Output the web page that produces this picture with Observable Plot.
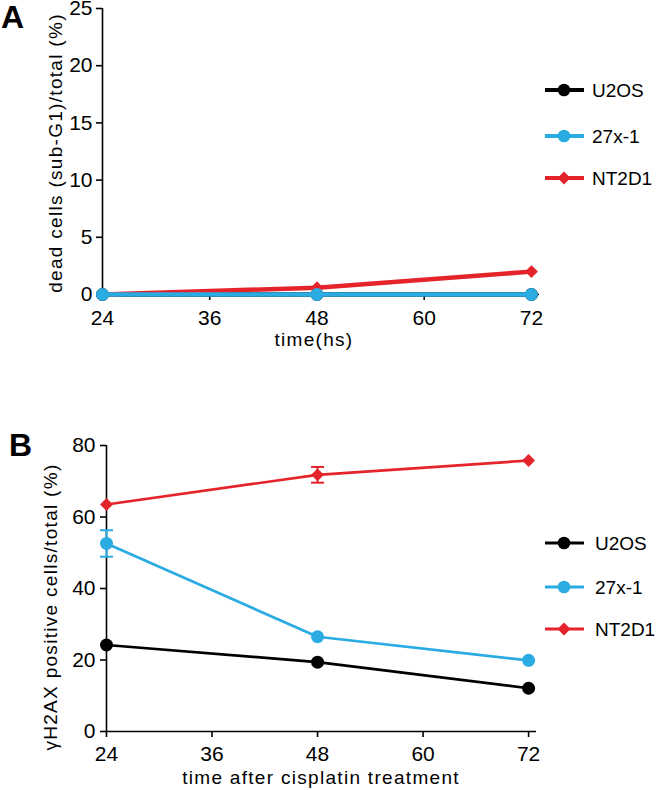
<!DOCTYPE html>
<html><head><meta charset="utf-8">
<script src="https://cdn.jsdelivr.net/npm/d3@7"></script>
<script src="https://cdn.jsdelivr.net/npm/@observablehq/plot@0.6"></script>
<style>
body{margin:0;background:#fff;}
#chart{width:666px;height:790px;position:relative;}
#chart svg{display:block;overflow:visible;}
#chart [aria-label$="axis tick"] path, #chart .tick line{stroke-width:1.6px;}
#chart [aria-label$="tick label"], #chart .tick text{font-size:21px !important;font-family:"Liberation Sans", Arial, sans-serif !important;}
</style></head><body><div id="chart"></div>
<script>
// ---------- data ----------
const times = [24, 48, 72];
const xTicks = [24, 36, 48, 60, 72];
const seriesNames = ["U2OS", "27x-1", "NT2D1"];
const seriesColors = ["#000000", "#2aabe2", "#e4232a"];
const seriesSymbols = ["circle", "circle", "diamond2"];

// Panel A: dead cells (sub-G1)/total (%)
const aTicksY = [0, 5, 10, 15, 20, 25];
const aU2OS = [0, 0, 0];
const a27x1 = [0, 0, 0];
const aNT2D1 = [0, 0.6, 2.0];

// Panel B: γH2AX positive cells/total (%)
const bTicksY = [0, 20, 40, 60, 80];
const bU2OS = [24.2, 19.4, 12.1];
const b27x1 = [52.6, 26.5, 19.9];
const bNT2D1 = [63.5, 71.8, 75.8];
const bErrU2OS = [0, 0, 0];
const bErr27x1 = [3.7, 0, 0];
const bErrNT2D1 = [0, 2.2, 0];

const FONT = "Liberation Sans, Arial, Helvetica, sans-serif";

function rowsFor(values, errs) {
  return times.map((t, i) => ({time: t, value: values[i], err: errs ? errs[i] : 0}));
}

const capSymbol = {
  draw(context, size) {
    const w = Math.sqrt(size / Math.PI);
    context.moveTo(-w, 0);
    context.lineTo(w, 0);
  }
};

function buildPanel(cfg) {
  const marks = [
    Plot.ruleY([0], {stroke: "#000", strokeWidth: 1.6}),
    Plot.ruleX([24], {stroke: "#000", strokeWidth: 1.6})
  ];
  for (const idx of cfg.order) {
    const rows = rowsFor(cfg.values[idx], cfg.errs ? cfg.errs[idx] : null);
    const color = seriesColors[idx];
    marks.push(Plot.line(rows, {x: "time", y: "value", stroke: color, strokeWidth: cfg.lineWidth}));
    const errRows = rows.filter(d => d.err > 0);
    if (errRows.length) {
      marks.push(Plot.ruleX(errRows, {x: "time", y1: d => d.value - d.err, y2: d => d.value + d.err, stroke: color, strokeWidth: 2}));
      marks.push(Plot.dot(errRows, {x: "time", y: d => d.value - d.err, symbol: capSymbol, r: 6.5, stroke: color, strokeWidth: 2, fill: "none"}));
      marks.push(Plot.dot(errRows, {x: "time", y: d => d.value + d.err, symbol: capSymbol, r: 6.5, stroke: color, strokeWidth: 2, fill: "none"}));
    }
    const isDiamond = seriesSymbols[idx] === "diamond2";
    marks.push(Plot.dot(rows, {x: "time", y: "value", symbol: seriesSymbols[idx], r: isDiamond ? 5.8 : 6.5, fill: color, stroke: "none"}));
  }
  const svg = Plot.plot({
    width: 666,
    height: cfg.height,
    marginTop: cfg.marginTop,
    marginBottom: cfg.marginBottom,
    marginLeft: cfg.marginLeft,
    marginRight: cfg.marginRight,
    style: {fontFamily: FONT, fontSize: "21px", color: "#000", background: "#fff", overflow: "visible"},
    x: {domain: [24, 72.9], ticks: xTicks, tickSize: 6, tickPadding: cfg.xPad, label: null, tickFormat: d => String(d)},
    y: {domain: cfg.yDomain, ticks: cfg.yTicks, tickSize: 6, tickPadding: cfg.yPad, label: null, tickFormat: d => String(d)},
    marks
  });
  const s = d3.select(svg);
  // panel letter
  s.append("text").attr("x", cfg.letterX).attr("y", cfg.letterY)
    .attr("text-anchor", "start")
    .attr("font-family", FONT).attr("font-size", 32).attr("font-weight", "bold")
    .attr("fill", "#000").text(cfg.letter);
  // y label
  s.append("text")
    .attr("transform", `translate(${cfg.yLabelX},${cfg.yLabelY}) rotate(-90)`)
    .attr("text-anchor", "middle").attr("dy", "0.35em")
    .attr("font-family", FONT).attr("font-size", 19).attr("letter-spacing", "1.3px")
    .attr("fill", "#000").text(cfg.yLabel);
  // x label
  s.append("text").attr("x", cfg.xLabelX).attr("y", cfg.xLabelY)
    .attr("text-anchor", "middle")
    .attr("font-family", FONT).attr("font-size", 19).attr("letter-spacing", "1.3px")
    .attr("fill", "#000").text(cfg.xLabel);
  // legend
  const lg = s.append("g");
  seriesNames.forEach((name, i) => {
    const y = cfg.legendY[i];
    lg.append("line").attr("x1", 545).attr("x2", 584).attr("y1", y).attr("y2", y)
      .attr("stroke", seriesColors[i]).attr("stroke-width", cfg.legendLineWidth);
    const type = seriesSymbols[i] === "diamond2" ? d3.symbolDiamond2 : d3.symbolCircle;
    const sz = seriesSymbols[i] === "diamond2" ? Math.PI * 5.8 * 5.8 : Math.PI * 6.3 * 6.3;
    lg.append("path").attr("d", d3.symbol(type, sz)()).attr("transform", `translate(564,${y})`)
      .attr("fill", seriesColors[i]);
    lg.append("text").attr("x", cfg.legendTextX).attr("y", y).attr("dy", "0.36em")
      .attr("text-anchor", "start")
      .attr("font-family", FONT).attr("font-size", 19).attr("fill", "#000").text(name);
  });
  return svg;
}

const chart = document.getElementById("chart");

chart.appendChild(buildPanel({
  height: 360, marginTop: 8, marginBottom: 66, marginLeft: 102, marginRight: 127,
  xPad: 10, yPad: 4,
  yDomain: [0, 25], yTicks: aTicksY,
  values: [aU2OS, a27x1, aNT2D1],
  errs: null,
  order: [0, 2, 1],
  lineWidth: 4.5,
  letter: "A", letterX: 1, letterY: 28,
  yLabel: "dead cells (sub-G1)/total (%)", yLabelX: 55, yLabelY: 153,
  xLabel: "time(hs)", xLabelX: 314, xLabelY: 346,
  legendY: [90, 136, 178], legendLineWidth: 4, legendTextX: 592
}));

chart.appendChild(buildPanel({
  height: 430, marginTop: 85, marginBottom: 59, marginLeft: 106, marginRight: 130,
  xPad: 9, yPad: 5,
  yDomain: [0, 80], yTicks: bTicksY,
  values: [bU2OS, b27x1, bNT2D1],
  errs: [bErrU2OS, bErr27x1, bErrNT2D1],
  order: [0, 1, 2],
  lineWidth: 2.7,
  letter: "B", letterX: 9, letterY: 96,
  yLabel: "γH2AX positive cells/total (%)", yLabelX: 50, yLabelY: 247,
  xLabel: "time after cisplatin treatment", xLabelX: 321, xLabelY: 424,
  legendY: [183, 227, 269], legendLineWidth: 3, legendTextX: 595
}));
</script></body></html>
